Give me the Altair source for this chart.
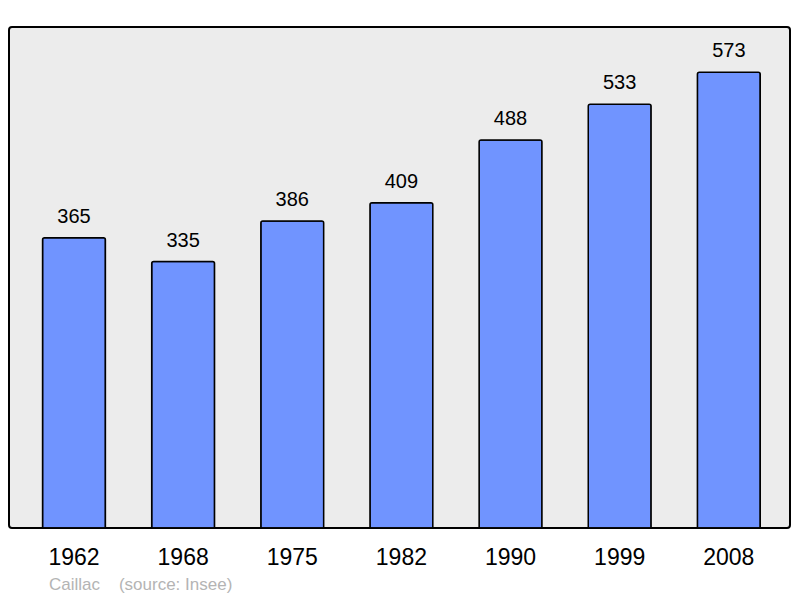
import altair as alt
import pandas as pd

years = ["1962", "1968", "1975", "1982", "1990", "1999", "2008"]
population = [365, 335, 386, 409, 488, 533, 573]

df = pd.DataFrame({"year": years, "pop": population})

FONT = "Liberation Sans"

x = alt.X("year:N", sort=years,
          scale=alt.Scale(paddingInner=0.424, paddingOuter=0.29, align=0.53),
          axis=alt.Axis(title=None, domain=False, ticks=False, labelAngle=0,
                        labelFont=FONT, labelFontSize=23, labelColor="#000000",
                        labelPadding=18, labelBaseline="top"))
y = alt.Y("pop:Q", scale=alt.Scale(domain=[0, 630], nice=False, zero=True), axis=None)

bars = alt.Chart(df).mark_bar(
    color="#7094ff", stroke="#000000", strokeWidth=1.5,
    cornerRadiusTopLeft=2, cornerRadiusTopRight=2
).encode(x=x, y=y)

labels = alt.Chart(df).mark_text(
    baseline="bottom", dy=-11, font=FONT, fontSize=20, color="#000000"
).encode(x=x, y=y, text="pop:Q")

chart = (bars + labels).properties(
    width=781, height=501,
    padding={"left": 1, "top": 19, "right": 2, "bottom": 2},
    background="#ffffff",
    title=alt.TitleParams(
        "Caillac\u00a0\u00a0\u00a0\u00a0(source: Insee)",
        orient="bottom", anchor="start", dx=40, offset=8,
        font=FONT, fontSize=17, fontWeight="normal", color="#b4b4b4"),
).configure_view(
    fill="#ececec", stroke="#000000", strokeWidth=2, cornerRadius=3
)

chart.save("out.html", embed_options={"renderer": "svg", "actions": False})
